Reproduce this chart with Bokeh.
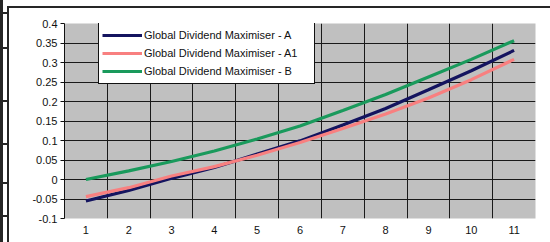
from bokeh.plotting import figure
from bokeh.models import FixedTicker, Legend, LegendItem, Range1d, InlineStyleSheet
from bokeh.embed import file_html
from bokeh.resources import INLINE

periods = [1, 2, 3, 4, 5, 6, 7, 8, 9, 10, 11]
series_a = [-0.055, -0.028, 0.003, 0.031, 0.065, 0.099, 0.140, 0.182, 0.230, 0.279, 0.331]
series_a1 = [-0.044, -0.021, 0.009, 0.033, 0.062, 0.095, 0.131, 0.168, 0.209, 0.256, 0.308]
series_b = [0.000, 0.022, 0.046, 0.073, 0.104, 0.137, 0.177, 0.218, 0.263, 0.308, 0.356]
names = ["Global Dividend Maximiser - A", "Global Dividend Maximiser - A1", "Global Dividend Maximiser - B"]
colors = ["#14145f", "#f88080", "#1a9a5c"]
y_ticks = [-0.1, -0.05, 0, 0.05, 0.1, 0.15, 0.2, 0.25, 0.3, 0.35, 0.4]
y_labels = ["-0.1", "-0.05", "0", "0.05", "0.1", "0.15", "0.2", "0.25", "0.3", "0.35", "0.4"]

FONT = "Liberation Sans"

p = figure(width=550, height=242, output_backend="svg", toolbar_location=None,
           x_range=Range1d(0.5, 11.5), y_range=Range1d(-0.1, 0.4),
           min_border_left=64, min_border_right=15, min_border_top=23, min_border_bottom=24)
p.background_fill_color = "#c0c0c0"
p.border_fill_color = "white"
p.outline_line_color = None

# axes
p.xaxis.ticker = FixedTicker(ticks=periods)
p.xaxis.axis_line_color = None
p.xaxis.major_tick_line_color = None
p.xaxis.minor_tick_line_color = None
p.xaxis.major_label_standoff = 1
p.xaxis.major_label_text_font = FONT
p.xaxis.major_label_text_font_size = "11px"
p.xaxis.major_label_text_color = "#111111"

p.yaxis.ticker = FixedTicker(ticks=y_ticks)
p.yaxis.major_label_overrides = {t: l for t, l in zip(y_ticks, y_labels)}
p.yaxis.axis_line_color = "#111111"
p.yaxis.major_tick_line_color = "#111111"
p.yaxis.major_tick_in = 0
p.yaxis.major_tick_out = 4
p.yaxis.minor_tick_line_color = None
p.yaxis.major_label_standoff = 3
p.yaxis.major_label_text_font = FONT
p.yaxis.major_label_text_font_size = "11px"
p.yaxis.major_label_text_color = "#111111"

# grid
p.xgrid.ticker = FixedTicker(ticks=[x + 0.5 for x in periods[:-1]])
p.xgrid.grid_line_color = "#1a1a1a"
p.xgrid.grid_line_width = 1
p.ygrid.ticker = FixedTicker(ticks=y_ticks[1:-1])
p.ygrid.grid_line_color = "#1a1a1a"
p.ygrid.grid_line_width = 1

renderers = []
for ys, c in zip([series_a, series_a1, series_b], colors):
    r = p.line(periods, ys, line_color=c, line_width=3.2)
    renderers.append(r)

legend = Legend(items=[LegendItem(label=n, renderers=[r]) for n, r in zip(names, renderers)],
                location=(34, 134))
legend.border_line_color = "#111111"
legend.border_line_width = 1
legend.border_line_alpha = 1
legend.background_fill_color = "white"
legend.background_fill_alpha = 1
legend.label_text_font = FONT
legend.label_text_font_size = "11px"
legend.label_text_color = "#111111"
legend.glyph_width = 40
legend.glyph_height = 18
legend.label_height = 18
legend.label_width = 167
legend.label_standoff = 2
legend.padding = 3
legend.spacing = 0
legend.margin = 0
legend.label_text_baseline = "middle"
p.add_layout(legend, "center")

g = "linear-gradient(#262626,#262626)"
stubs_y = [12, 47, 100, 143, 182, 215]
layers = [f"{g} 0px 0px / 3px 242px no-repeat",
          f"{g} 7px 6px / 543px 2px no-repeat",
          f"{g} 7px 6px / 2px 236px no-repeat"]
layers += [f"{g} 0px {y}px / 8px 2px no-repeat" for y in stubs_y]
css = InlineStyleSheet(css="""
:host { position: relative; }
:host::after {
  content: ''; position: absolute; left: 0px; top: 0px; width: 550px; height: 242px;
  background: %s; pointer-events: none; z-index: 10;
}
""" % ", ".join(layers))
p.stylesheets = [css]

open("out.html", "w").write(file_html(p, INLINE))
